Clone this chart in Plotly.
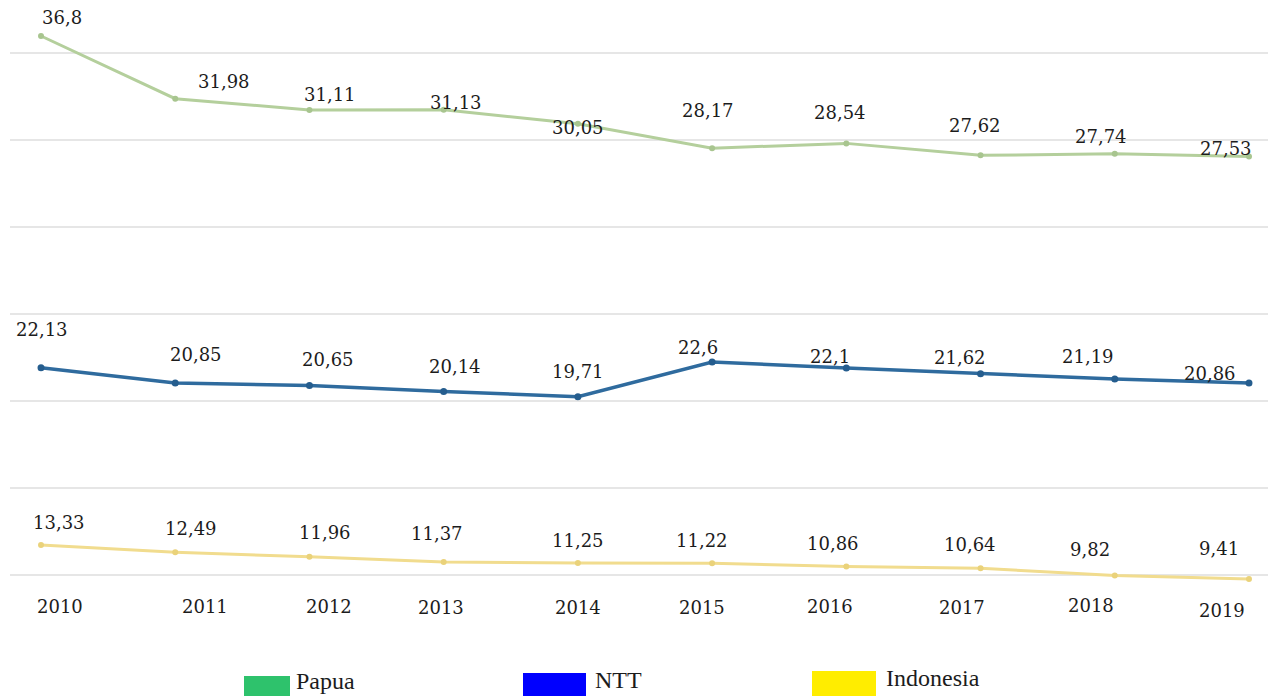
import plotly.graph_objects as go

YEARS = [2010, 2011, 2012, 2013, 2014, 2015, 2016, 2017, 2018, 2019]
YEAR_LABELS = ["2010", "2011", "2012", "2013", "2014", "2015", "2016", "2017", "2018", "2019"]
PAPUA = [36.8, 31.98, 31.11, 31.13, 30.05, 28.17, 28.54, 27.62, 27.74, 27.53]
NTT = [22.13, 20.85, 20.65, 20.14, 19.71, 22.6, 22.1, 21.62, 21.19, 20.86]
INDONESIA = [13.33, 12.49, 11.96, 11.37, 11.25, 11.22, 10.86, 10.64, 9.82, 9.41]
SERIES_NAMES = ["Papua", "NTT", "Indonesia"]

# label offsets (style)
PAPUA_DX = [21, 49, 21, 12, 0, -4, -6, -6, -14, -23]
PAPUA_DY = [19, 17, 15, 7, -4, 38, 31, 30, 17, 8]
NTT_DX = [1, 21, 19, 11, 0, -14, -16, -21, -27, -39]
NTT_DY = [38, 29, 26, 25, 25, 15, 12, 16, 22, 9]
IND_DX = [18, 16, 16, -7, 0, -10, -13, -11, -25, -30]
IND_DY = [22, 24, 24, 28, 23, 23, 23, 24, 26, 30]
YEAR_DX = [19, 30, 20, -3, 0, -10, -16, -19, -24, -27]
YEAR_PY = [606, 606, 606, 607, 607, 607, 606, 607, 605, 610]

W, H = 1268, 696
ML = 10
FONT = "DejaVu Serif"
TXT = "#1c1c1c"


def px_x(px):
    return (px - ML) / (W - ML)


def px_y(py):
    return 1 - py / H


fig = go.Figure()

# empty trace on the base subplot so its gridlines are drawn
fig.add_trace(go.Scatter(x=YEARS, y=[None] * len(YEARS), mode="lines",
                         showlegend=False, hoverinfo="skip"))

line_styles = [
    ("y2", PAPUA, "#b4cf9c", "#a8c58f", 3, 6),
    ("y3", NTT, "#2f6b9e", "#255d8e", 3.5, 7),
    ("y4", INDONESIA, "#f1dc8e", "#ead27a", 3, 6),
]
for (ya, vals, col, mcol, lw, ms), name in zip(line_styles, SERIES_NAMES):
    fig.add_trace(go.Scatter(
        x=YEARS, y=vals, yaxis=ya, mode="lines+markers", name=name,
        line=dict(color=col, width=lw), marker=dict(color=mcol, size=ms),
        showlegend=False, hoverinfo="skip"))

annotations = []
for ya, vals, dxs, dys in [("y2", PAPUA, PAPUA_DX, PAPUA_DY),
                           ("y3", NTT, NTT_DX, NTT_DY),
                           ("y4", INDONESIA, IND_DX, IND_DY)]:
    for x, v, dx, dy in zip(YEARS, vals, dxs, dys):
        annotations.append(dict(
            x=x, y=v, xref="x", yref=ya, text=str(v).replace(".", ","),
            showarrow=False, xshift=dx, yshift=dy,
            font=dict(family=FONT, size=18, color=TXT)))

# year labels (category axis labels)
for x, lab, dx, py in zip(YEARS, YEAR_LABELS, YEAR_DX, YEAR_PY):
    annotations.append(dict(
        x=x, y=px_y(py), xref="x", yref="paper", text=lab, showarrow=False,
        xshift=dx, yanchor="middle",
        font=dict(family=FONT, size=18, color=TXT)))

# custom legend
legend_items = [
    ("Papua", "#2ec26c", 244, 290, 676, 294, 681),
    ("NTT", "#0000ff", 523, 586, 673, 593, 680),
    ("Indonesia", "#ffed00", 812, 876, 671, 884, 678),
]
shapes = []
for name, col, x0, x1, ytop, tx, ty in legend_items:
    shapes.append(dict(type="rect", xref="paper", yref="paper",
                       x0=px_x(x0), x1=px_x(x1), y0=-0.01, y1=px_y(ytop),
                       fillcolor=col, line=dict(width=0)))
    annotations.append(dict(x=px_x(tx), y=px_y(ty), xref="paper", yref="paper",
                            text=name, showarrow=False, xanchor="left", yanchor="middle",
                            font=dict(family="Liberation Serif", size=24, color=TXT)))

fig.update_layout(
    width=W, height=H,
    margin=dict(l=ML, r=0, t=0, b=0),
    paper_bgcolor="white", plot_bgcolor="rgba(0,0,0,0)",
    showlegend=False,
    xaxis=dict(range=[2009.769, 2019.1416], visible=False),
    yaxis=dict(range=[-1.391, 6.609], tickvals=[0, 1, 2, 3, 4, 5, 6],
               showticklabels=False, showgrid=True, gridcolor="#e6e6e6", gridwidth=2,
               zeroline=False, ticks=""),
    yaxis2=dict(range=[-13.969, 39.569], overlaying="y", visible=False),
    yaxis3=dict(range=[-5.232, 52.768], overlaying="y", visible=False),
    yaxis4=dict(range=[-4.09, 76.19], overlaying="y", visible=False),
    annotations=annotations,
    shapes=shapes,
)

fig.write_html("out.html")
